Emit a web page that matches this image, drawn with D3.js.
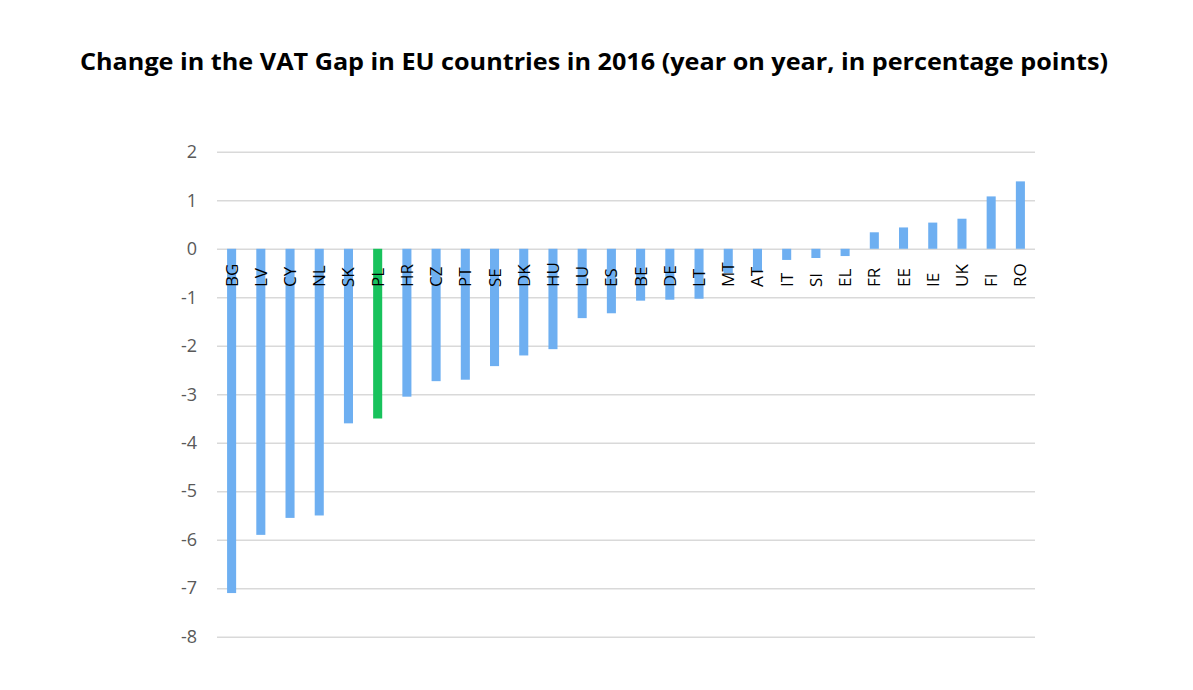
<!DOCTYPE html>
<html><head><meta charset="utf-8">
<script src="https://cdn.jsdelivr.net/npm/d3@7"></script>
<style>body{margin:0;background:#fff;}svg{display:block;}</style>
</head><body>
<script>
const title = "Change in the VAT Gap in EU countries in 2016 (year on year, in percentage points)";
const countries = ["BG","LV","CY","NL","SK","PL","HR","CZ","PT","SE","DK","HU","LU","ES","BE","DE","LT","MT","AT","IT","SI","EL","FR","EE","IE","UK","FI","RO"];
const changes = [-7.1,-5.9,-5.55,-5.5,-3.6,-3.5,-3.05,-2.73,-2.7,-2.42,-2.2,-2.07,-1.43,-1.33,-1.07,-1.05,-1.03,-0.5,-0.47,-0.23,-0.19,-0.15,0.34,0.44,0.54,0.62,1.08,1.39];
const highlighted = ["PL"];
const yTicks = [2,1,0,-1,-2,-3,-4,-5,-6,-7,-8];

const W = 1193, H = 690;
const svg = d3.select("body").append("svg").attr("width", W).attr("height", H);

const x = d3.scaleBand().domain(countries).range([217, 1035]).paddingInner(0.69).paddingOuter(0.345);
const y = d3.scaleLinear().domain([-8, 2]).range([636.7, 151.8]);

svg.append("text").attr("x", 594).attr("y", 70).attr("text-anchor", "middle")
  .attr("font-family", "Open Sans, sans-serif").attr("font-weight", "bold").attr("font-size", 24)
  .attr("textLength", 1028).attr("lengthAdjust", "spacingAndGlyphs")
  .attr("fill", "#000").text(title);

// gridlines
const yAxis = d3.axisLeft(y).tickValues(yTicks).tickSize(-(1035 - 217))
  .tickFormat(d => String(d)).tickPadding(20);
const gy = svg.append("g").attr("transform", "translate(217,0)").call(yAxis);
gy.select(".domain").remove();
gy.selectAll(".tick line").attr("stroke", "#d9d9d9").attr("stroke-width", 1.5);
gy.selectAll(".tick text").attr("font-family", "Open Sans, sans-serif").attr("font-size", 18).attr("fill", "#595959");

// bars
svg.append("g").selectAll("rect").data(countries).join("rect")
  .attr("x", d => x(d))
  .attr("width", x.bandwidth())
  .attr("y", (d, i) => y(Math.max(0, changes[i])))
  .attr("height", (d, i) => Math.abs(y(changes[i]) - y(0)))
  .attr("fill", d => highlighted.includes(d) ? "#18c25c" : "#6eaff1");

// category labels
svg.append("g").selectAll("text").data(countries).join("text")
  .attr("transform", d => `translate(${x(d) + x.bandwidth() / 2 + 6},287) rotate(-90)`)
  .attr("text-anchor", "start")
  .attr("font-family", "Open Sans, sans-serif").attr("font-size", 17).attr("fill", "#000")
  .text(d => d);
</script>
</body></html>
